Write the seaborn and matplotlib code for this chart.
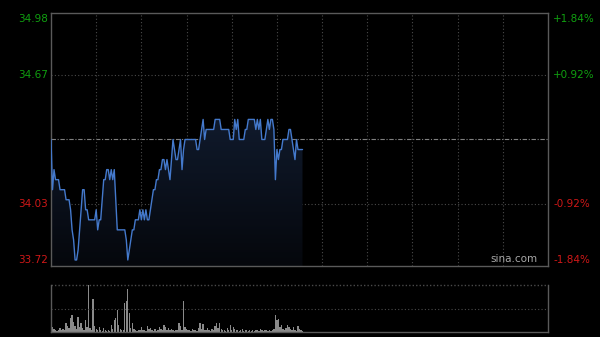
import numpy as np
import pandas as pd
import matplotlib
matplotlib.use("Agg")
import matplotlib.pyplot as plt
import seaborn as sns
from matplotlib.colors import LinearSegmentedColormap
import matplotlib.transforms as mtransforms

# ---- data ----
prev_close = 34.35
price_ticks_left = [34.98, 34.67, 34.03, 33.72]
pct_ticks_right = ["+1.84%", "+0.92%", "-0.92%", "-1.84%"]
prices = [
    34.35, 34.10, 34.20, 34.15, 34.15, 34.15, 34.10, 34.10, 34.10, 34.10,
    34.05, 34.05, 34.05, 34.00, 33.90, 33.85, 33.75, 33.75, 33.80, 33.90,
    34.00, 34.10, 34.10, 34.00, 34.00, 33.95, 33.95, 33.95, 33.95, 33.95,
    34.00, 33.90, 33.95, 33.95, 34.05, 34.15, 34.15, 34.20, 34.20, 34.15,
    34.20, 34.15, 34.20, 34.05, 33.90, 33.90, 33.90, 33.90, 33.90, 33.90,
    33.85, 33.75, 33.80, 33.85, 33.90, 33.90, 33.95, 33.95, 33.95, 34.00,
    33.95, 34.00, 33.95, 34.00, 33.95, 33.95, 34.00, 34.05, 34.10, 34.10,
    34.15, 34.15, 34.20, 34.20, 34.25, 34.25, 34.20, 34.25, 34.20, 34.15,
    34.25, 34.35, 34.30, 34.25, 34.25, 34.30, 34.35, 34.20, 34.30, 34.35,
    34.35, 34.35, 34.35, 34.35, 34.35, 34.35, 34.35, 34.30, 34.30, 34.35,
    34.40, 34.45, 34.35, 34.40, 34.40, 34.40, 34.40, 34.40, 34.40, 34.45,
    34.45, 34.45, 34.45, 34.40, 34.40, 34.40, 34.40, 34.40, 34.40, 34.35,
    34.35, 34.35, 34.45, 34.40, 34.45, 34.35, 34.35, 34.35, 34.35, 34.40,
    34.40, 34.45, 34.45, 34.45, 34.45, 34.45, 34.40, 34.45, 34.40, 34.45,
    34.35, 34.35, 34.35, 34.40, 34.45, 34.40, 34.45, 34.45, 34.40, 34.15,
    34.30, 34.25, 34.30, 34.30, 34.35, 34.35, 34.35, 34.35, 34.40, 34.40,
    34.35, 34.30, 34.25, 34.35, 34.30, 34.30, 34.30, 34.30,
]
volumes = [
    23, 10, 6, 4, 3, 5, 8, 4, 7, 5,
    19, 12, 8, 30, 36, 22, 12, 6, 32, 10,
    20, 8, 5, 26, 10, 100, 8, 5, 70, 12,
    6, 4, 10, 5, 3, 8, 4, 3, 5, 3,
    15, 6, 25, 30, 47, 15, 6, 4, 4, 62,
    66, 91, 40, 8, 20, 6, 4, 3, 5, 4,
    10, 5, 4, 3, 12, 6, 8, 4, 3, 6,
    3, 5, 10, 6, 4, 14, 10, 5, 8, 4,
    6, 4, 3, 5, 4, 20, 12, 5, 66, 10,
    6, 4, 5, 3, 6, 4, 5, 3, 8, 20,
    6, 18, 5, 4, 8, 4, 3, 6, 4, 12,
    20, 8, 20, 6, 4, 5, 3, 8, 4, 15,
    5, 10, 6, 4, 5, 3, 4, 6, 3, 5,
    4, 3, 5, 3, 4, 3, 5, 4, 3, 6,
    4, 3, 5, 4, 3, 5, 3, 4, 6, 36,
    25, 28, 10, 14, 6, 4, 8, 14, 10, 6,
    4, 10, 5, 3, 12, 6, 4, 3,
]
minutes = list(range(len(prices)))
total_minutes = 330

df = pd.DataFrame({"minute": minutes, "price": prices, "volume": volumes})

# ---- style ----
sns.set_theme(style="dark")
plt.rcParams["font.family"] = ["DejaVu Sans"]
bg = "#000000"
grid_c = "#4a4a4a"
spine_c = "#5a5a5a"
green = "#10a010"
red = "#d01818"

fig = plt.figure(figsize=(6, 3.37), dpi=100, facecolor=bg)
W, H = 600, 337
ax = fig.add_axes([51 / W, 1 - 266 / H, (548 - 51) / W, (266 - 13) / H])
axv = fig.add_axes([51 / W, 1 - 332 / H, (548 - 51) / W, (332 - 285) / H])

for a in (ax, axv):
    a.set_facecolor(bg)
    a.grid(False)
    a.set_xticks([])
    a.set_yticks([])
    a.set_xlabel("")
    a.set_ylabel("")

ymin, ymax = 33.72, 34.98
ax.set_xlim(0, total_minutes)
ax.set_ylim(ymin, ymax)

# gridlines
for t in [34.67, 34.03]:
    ax.axhline(t, color=grid_c, lw=0.8, ls=(0, (1, 2)), zorder=1)
ax.axhline(prev_close, color="#808080", lw=0.8, ls=(0, (4, 1.5, 1, 1.5)), zorder=1)
for m in range(30, total_minutes, 30):
    ax.axvline(m, color=grid_c, lw=0.8, ls=(0, (1, 2)), zorder=1)

# gradient fill under line
poly = ax.fill_between(df["minute"], df["price"], ymin, facecolor="none", edgecolor="none")
cmap = LinearSegmentedColormap.from_list("g", ["#05070c", "#101a2c"])
grad = np.linspace(0, 1, 256).reshape(-1, 1)
im = ax.imshow(grad, extent=[0, total_minutes, ymin, max(prices)], origin="lower",
               aspect="auto", cmap=cmap, zorder=2)
im.set_clip_path(poly.get_paths()[0], transform=ax.transData)
ax.set_xlim(0, total_minutes)
ax.set_ylim(ymin, ymax)

sns.lineplot(data=df, x="minute", y="price", ax=ax, color="#4479cc", lw=1.0, zorder=3)
ax.set_xlabel("")
ax.set_ylabel("")

for s in ax.spines.values():
    s.set_visible(True)
    s.set_color(spine_c)
    s.set_linewidth(1)

# labels
trans_l = mtransforms.blended_transform_factory(fig.transFigure, ax.transData)
fs = 7.5
lx = 48 / W
rx = 553 / W
for t, p in zip(price_ticks_left, pct_ticks_right):
    col = green if t > prev_close else red
    if t == ymax:
        va = "top"
        yy = t - 0.005
    elif t == ymin:
        va = "bottom"
        yy = t + 0.005
    else:
        va = "center"
        yy = t
    ax.text(lx, yy, f"{t:.2f}", transform=trans_l, ha="right", va=va,
            color=col, fontsize=fs, clip_on=False)
    ax.text(rx, yy, p, transform=trans_l, ha="left", va=va,
            color=col, fontsize=fs, clip_on=False)

ax.text(538 / W, 1 - 266 / H + 0.005, "sina.com", transform=fig.transFigure,
        ha="right", va="bottom", color="#a8a8a8", fontsize=7.5)

# volume panel
sns.barplot(data=df, x="minute", y="volume", ax=axv, native_scale=True,
            color="#8a8a8a", width=0.9, saturation=1, edgecolor="none", linewidth=0)
axv.set_xlim(0, total_minutes)
axv.set_ylim(0, max(volumes))
axv.set_xlabel("")
axv.set_ylabel("")
axv.set_xticks([])
axv.set_yticks([])
axv.axhline(max(volumes) / 2, color=grid_c, lw=0.8, ls=(0, (1, 2)))
axv.axhline(max(volumes), color=grid_c, lw=1.0, ls=(0, (1, 1.5)), clip_on=False)
for k, s in axv.spines.items():
    s.set_color(spine_c)
    s.set_linewidth(1)
    s.set_visible(k != "top")

fig.savefig("out.png", dpi=100, facecolor=bg)
